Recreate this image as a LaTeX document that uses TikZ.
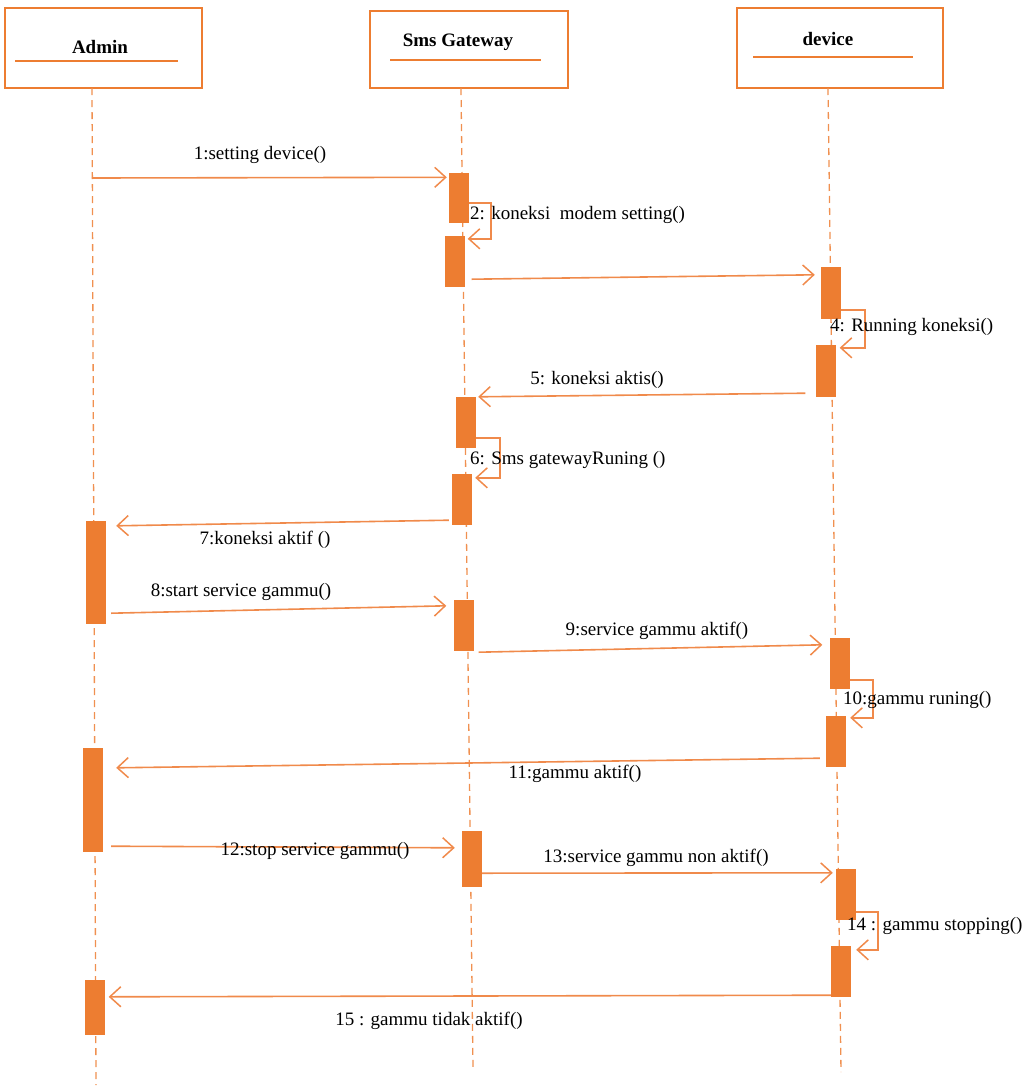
\documentclass[tikz,border=0pt]{standalone}
\usepackage{fontspec}
\setmainfont{Liberation Serif}
\usepackage{tikz}
\usetikzlibrary{arrows.meta,calc}
\definecolor{uml}{HTML}{ED7D31}
\definecolor{umlline}{HTML}{F08A4B}
\tikzstyle{obj}=[draw=uml,line width=2.8pt,inner sep=0pt]
\tikzstyle{head}=[font=\fontsize{19}{22}\selectfont\bfseries,inner sep=1pt]
\tikzstyle{actbox}=[fill=uml,inner sep=0pt,minimum width=20pt]
\tikzstyle{life}=[draw=uml!85,line width=1.3pt,dash pattern=on 7pt off 5pt]
\tikzstyle{msg}=[draw=umlline,line width=1.6pt,-{Straight Barb[length=11pt,width=20pt,line width=1.5pt]}]
\tikzstyle{lbl}=[font=\fontsize{19}{22}\selectfont,inner sep=1pt]

\begin{document}
\begin{tikzpicture}[x=1pt,y=-1pt]
            \useasboundingbox (0,0) rectangle (1030,1088);
            % objects
            \node[obj,minimum width=197pt,minimum height=80pt] (admin) at (103.5,48) {};
            \node[obj,minimum width=198pt,minimum height=77pt] (sms) at (469,49.5) {};
            \node[obj,minimum width=206pt,minimum height=80pt] (dev) at (840,48) {};
            \node[head] (adminL) at (100,47) {Admin};
            \node[head] (smsL) at (458,42) {Sms Gateway};
            \node[head] (devL) at (828,39) {device};
            \draw[uml,line width=2.2pt] (15,61) -- (178,61);
            \draw[uml,line width=2.2pt] (390,60) -- (541,60);
            \draw[uml,line width=2.2pt] (753,57) -- (913,57);
            % lifelines
            \coordinate (aTop) at (92,88);
            \coordinate (aBot) at (96,1085);
            \coordinate (gTop) at (461,88);
            \coordinate (gBot) at (473,1068);
            \coordinate (dTop) at (828,88);
            \coordinate (dBot) at (841,1072);
            \draw[life] (aTop) -- (aBot);
            \draw[life] (gTop) -- (gBot);
            \draw[life] (dTop) -- (dBot);
            % activations
            \node[actbox,minimum height=50pt] (g1) at (459,197.5) {};
            \node[actbox,minimum height=51pt] (g2) at (454.5,261.5) {};
            \node[actbox,minimum height=51pt] (g3) at (466,422.5) {};
            \node[actbox,minimum height=51pt] (g4) at (462,499.5) {};
            \node[actbox,minimum height=51pt] (g5) at (463.5,625.5) {};
            \node[actbox,minimum height=56pt] (g6) at (472,859) {};
            \node[actbox,minimum height=52pt] (d1) at (831,293) {};
            \node[actbox,minimum height=52pt] (d2) at (825.5,371) {};
            \node[actbox,minimum height=51pt] (d3) at (839.5,663.5) {};
            \node[actbox,minimum height=51pt] (d4) at (836,741.5) {};
            \node[actbox,minimum height=51pt] (d5) at (846,894.5) {};
            \node[actbox,minimum height=51pt] (d6) at (841,971.5) {};
            \node[actbox,minimum height=103pt] (a1) at (96,572.5) {};
            \node[actbox,minimum height=104pt] (a2) at (93,800) {};
            \node[actbox,minimum height=55pt] (a3) at (94.5,1007.5) {};
            % messages
            \coordinate (m1) at (92,178);
            \draw[msg] (m1) -- ($(g1.north west)+(-2,5)$);
            \node[lbl] (l1) at (260,155) {1:setting device()};
            \draw[msg] ($(g1.south east)+(0,-20)$) -- ++(22,0) |- ($(g2.north east)+(3,3)$);
            \node[lbl,anchor=west] (l2) at (469,215) {2: koneksi\ \ modem setting()};
            \draw[msg] ($(g2.south east)+(7,-8)$) -- ($(d1.north west)+(-6,8)$);
            \draw[msg] ($(d1.south east)+(0,-9)$) -- ++(24,0) |- ($(d2.north east)+(4,3)$);
            \node[lbl,anchor=west] (l4) at (829,327) {4: Running koneksi()};
            \draw[msg] ($(d2.south west)+(-10,-4)$) -- ($(g3.north east)+(2,0)$);
            \node[lbl] (l5) at (597,380) {5: koneksi aktis()};
            \draw[msg] ($(g3.south east)+(0,-10)$) -- ++(24,0) |- ($(g4.north east)+(3,4)$);
            \node[lbl,anchor=west] (l6) at (469,460) {6: Sms gatewayRuning ()};
            \draw[msg] ($(g4.south west)+(-3,-5)$) -- ($(a1.north east)+(10,5)$);
            \node[lbl] (l7) at (265,540) {7:koneksi aktif ()};
            \draw[msg] ($(a1.south east)+(5,-11)$) -- ($(g5.north west)+(-7,6)$);
            \node[lbl] (l8) at (241,592) {8:start service gammu()};
            \draw[msg] ($(g5.south east)+(5,1)$) -- ($(d3.north west)+(-7,7)$);
            \node[lbl] (l9) at (657,631) {9:service gammu aktif()};
            \draw[msg] ($(d3.south east)+(0,-9)$) -- ++(23,0) |- ($(d4.north east)+(4,2)$);
            \node[lbl,anchor=west] (l10) at (842,700) {10:gammu runing()};
            \draw[msg] ($(d4.south west)+(-6,-9)$) -- ($(a2.north east)+(13,20)$);
            \node[lbl] (l11) at (575,774) {11:gammu aktif()};
            \draw[msg] ($(a2.south east)+(8,-6)$) -- ($(g6.north west)+(-7,17)$);
            \node[lbl] (l12) at (315,851) {12:stop service gammu()};
            \draw[msg] ($(g6.south east)+(0,-14)$) -- ($(d5.north west)+(-3,4)$);
            \node[lbl] (l13) at (656,858) {13:service gammu non aktif()};
            \draw[msg] ($(d5.south east)+(0,-8)$) -- ++(22,0) |- ($(d6.north east)+(5,4)$);
            \node[lbl,anchor=west] (l14) at (846,926) {14 : gammu stopping()};
            \draw[msg] ($(d6.south west)+(0,-2)$) -- ($(a3.north east)+(4,17)$);
            \node[lbl] (l15) at (429,1021) {15 : gammu tidak aktif()};
        \end{tikzpicture}
\end{document}
